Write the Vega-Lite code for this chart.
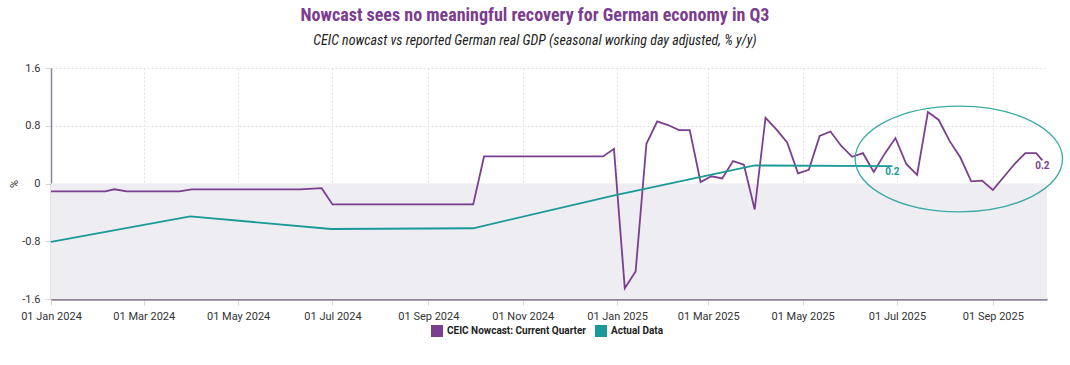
{
  "$schema": "https://vega.github.io/schema/vega-lite/v6.json",
  "width": 996,
  "height": 231,
  "autosize": "none",
  "padding": {"left": 51, "top": 68, "right": 23, "bottom": 66},
  "background": "white",
  "title": {
    "text": "Nowcast sees no meaningful recovery for German economy in Q3",
    "subtitle": "CEIC nowcast vs reported German real GDP (seasonal working day adjusted, % y/y)",
    "anchor": "middle",
    "frame": "group",
    "dx": -14,
    "offset": 14,
    "font": "Roboto Condensed, Liberation Sans Narrow, DejaVu Sans Condensed, Roboto",
    "fontSize": 18,
    "fontWeight": "bold",
    "color": "#7b3c8e",
    "subtitleFont": "Roboto Condensed, Liberation Sans Narrow, DejaVu Sans Condensed, Roboto",
    "subtitleFontStyle": "italic",
    "subtitleFontSize": 14,
    "subtitleColor": "#222222",
    "subtitlePadding": 9
  },
  "config": {
    "view": {"stroke": null},
    "font": "Roboto",
    "axis": {
      "labelFont": "Roboto",
      "labelFontSize": 11,
      "labelColor": "#333333",
      "titleFont": "Roboto",
      "titleFontSize": 11,
      "titleFontWeight": "normal",
      "titleColor": "#333333",
      "gridColor": "#e3e3e3",
      "gridDash": [2, 2],
      "gridWidth": 1,
      "tickColor": "#d6d6d6",
      "tickSize": 6,
      "domainColor": "#8e8299"
    },
    "legend": {
      "labelFont": "Roboto",
      "labelFontSize": 10,
      "labelFontWeight": "bold",
      "labelColor": "#222222"
    }
  },
  "datasets": {
    "series": [
      {"date": "2024-01-01", "value": -0.11, "series": "CEIC Nowcast: Current Quarter"},
      {"date": "2024-02-05", "value": -0.11, "series": "CEIC Nowcast: Current Quarter"},
      {"date": "2024-02-11", "value": -0.08, "series": "CEIC Nowcast: Current Quarter"},
      {"date": "2024-02-19", "value": -0.11, "series": "CEIC Nowcast: Current Quarter"},
      {"date": "2024-03-24", "value": -0.11, "series": "CEIC Nowcast: Current Quarter"},
      {"date": "2024-04-01", "value": -0.08, "series": "CEIC Nowcast: Current Quarter"},
      {"date": "2024-06-10", "value": -0.08, "series": "CEIC Nowcast: Current Quarter"},
      {"date": "2024-06-24", "value": -0.065, "series": "CEIC Nowcast: Current Quarter"},
      {"date": "2024-07-01", "value": -0.29, "series": "CEIC Nowcast: Current Quarter"},
      {"date": "2024-09-30", "value": -0.29, "series": "CEIC Nowcast: Current Quarter"},
      {"date": "2024-10-07", "value": 0.375, "series": "CEIC Nowcast: Current Quarter"},
      {"date": "2024-12-23", "value": 0.375, "series": "CEIC Nowcast: Current Quarter"},
      {"date": "2024-12-30", "value": 0.48, "series": "CEIC Nowcast: Current Quarter"},
      {"date": "2025-01-06", "value": -1.45, "series": "CEIC Nowcast: Current Quarter"},
      {"date": "2025-01-13", "value": -1.22, "series": "CEIC Nowcast: Current Quarter"},
      {"date": "2025-01-20", "value": 0.55, "series": "CEIC Nowcast: Current Quarter"},
      {"date": "2025-01-27", "value": 0.86, "series": "CEIC Nowcast: Current Quarter"},
      {"date": "2025-02-03", "value": 0.81, "series": "CEIC Nowcast: Current Quarter"},
      {"date": "2025-02-10", "value": 0.74, "series": "CEIC Nowcast: Current Quarter"},
      {"date": "2025-02-17", "value": 0.74, "series": "CEIC Nowcast: Current Quarter"},
      {"date": "2025-02-24", "value": 0.02, "series": "CEIC Nowcast: Current Quarter"},
      {"date": "2025-03-03", "value": 0.10, "series": "CEIC Nowcast: Current Quarter"},
      {"date": "2025-03-10", "value": 0.07, "series": "CEIC Nowcast: Current Quarter"},
      {"date": "2025-03-17", "value": 0.31, "series": "CEIC Nowcast: Current Quarter"},
      {"date": "2025-03-24", "value": 0.26, "series": "CEIC Nowcast: Current Quarter"},
      {"date": "2025-03-31", "value": -0.36, "series": "CEIC Nowcast: Current Quarter"},
      {"date": "2025-04-07", "value": 0.91, "series": "CEIC Nowcast: Current Quarter"},
      {"date": "2025-04-14", "value": 0.75, "series": "CEIC Nowcast: Current Quarter"},
      {"date": "2025-04-21", "value": 0.57, "series": "CEIC Nowcast: Current Quarter"},
      {"date": "2025-04-28", "value": 0.14, "series": "CEIC Nowcast: Current Quarter"},
      {"date": "2025-05-05", "value": 0.19, "series": "CEIC Nowcast: Current Quarter"},
      {"date": "2025-05-12", "value": 0.66, "series": "CEIC Nowcast: Current Quarter"},
      {"date": "2025-05-19", "value": 0.72, "series": "CEIC Nowcast: Current Quarter"},
      {"date": "2025-05-26", "value": 0.52, "series": "CEIC Nowcast: Current Quarter"},
      {"date": "2025-06-02", "value": 0.37, "series": "CEIC Nowcast: Current Quarter"},
      {"date": "2025-06-09", "value": 0.42, "series": "CEIC Nowcast: Current Quarter"},
      {"date": "2025-06-16", "value": 0.16, "series": "CEIC Nowcast: Current Quarter"},
      {"date": "2025-06-23", "value": 0.41, "series": "CEIC Nowcast: Current Quarter"},
      {"date": "2025-06-30", "value": 0.63, "series": "CEIC Nowcast: Current Quarter"},
      {"date": "2025-07-07", "value": 0.27, "series": "CEIC Nowcast: Current Quarter"},
      {"date": "2025-07-14", "value": 0.12, "series": "CEIC Nowcast: Current Quarter"},
      {"date": "2025-07-21", "value": 0.99, "series": "CEIC Nowcast: Current Quarter"},
      {"date": "2025-07-28", "value": 0.88, "series": "CEIC Nowcast: Current Quarter"},
      {"date": "2025-08-04", "value": 0.59, "series": "CEIC Nowcast: Current Quarter"},
      {"date": "2025-08-11", "value": 0.36, "series": "CEIC Nowcast: Current Quarter"},
      {"date": "2025-08-18", "value": 0.03, "series": "CEIC Nowcast: Current Quarter"},
      {"date": "2025-08-25", "value": 0.04, "series": "CEIC Nowcast: Current Quarter"},
      {"date": "2025-09-01", "value": -0.09, "series": "CEIC Nowcast: Current Quarter"},
      {"date": "2025-09-08", "value": 0.09, "series": "CEIC Nowcast: Current Quarter"},
      {"date": "2025-09-15", "value": 0.27, "series": "CEIC Nowcast: Current Quarter"},
      {"date": "2025-09-22", "value": 0.42, "series": "CEIC Nowcast: Current Quarter"},
      {"date": "2025-09-29", "value": 0.42, "series": "CEIC Nowcast: Current Quarter"},
      {"date": "2025-10-03", "value": 0.32, "series": "CEIC Nowcast: Current Quarter"},
      {"date": "2024-01-01", "value": -0.81, "series": "Actual Data"},
      {"date": "2024-03-31", "value": -0.455, "series": "Actual Data"},
      {"date": "2024-06-30", "value": -0.63, "series": "Actual Data"},
      {"date": "2024-09-30", "value": -0.62, "series": "Actual Data"},
      {"date": "2024-12-31", "value": -0.16, "series": "Actual Data"},
      {"date": "2025-03-31", "value": 0.25, "series": "Actual Data"},
      {"date": "2025-06-28", "value": 0.24, "series": "Actual Data"}
    ],
    "labels": [
      {"date": "2025-10-03", "value": 0.32, "series": "CEIC Nowcast: Current Quarter", "label": "0.2"},
      {"date": "2025-06-28", "value": 0.24, "series": "Actual Data", "label": "0.2"}
    ]
  },
  "layer": [
    {
      "data": {"values": [{}]},
      "mark": {"type": "rect", "color": "#eeedf2"},
      "encoding": {
        "y": {"datum": 0, "type": "quantitative"},
        "y2": {"datum": -1.6}
      }
    },
    {
      "data": {"name": "series"},
      "mark": {"type": "line", "strokeWidth": 1.8, "interpolate": "linear"},
      "encoding": {
        "x": {
          "field": "date",
          "type": "temporal",
          "scale": {"type": "utc", "domain": [{"year": 2024, "month": 1, "date": 1, "utc": true}, {"year": 2025, "month": 10, "date": 6, "utc": true}]},
          "axis": {
            "title": null,
            "format": "%d %b %Y",
            "tickCount": {"interval": "month", "step": 2},
            "grid": true,
            "domainWidth": 2.5,
            "labelPadding": 5,
            "labelFlush": false
          }
        },
        "y": {
          "field": "value",
          "type": "quantitative",
          "scale": {"domain": [-1.6, 1.6], "nice": false, "zero": false},
          "axis": {
            "title": "%",
            "values": [-1.6, -0.8, 0, 0.8, 1.6],
            "labelExpr": "'' + datum.value",
            "grid": true,
            "domainWidth": 1.5,
            "labelPadding": 5,
            "titlePadding": 2
          }
        },
        "color": {
          "field": "series",
          "type": "nominal",
          "scale": {"domain": ["CEIC Nowcast: Current Quarter", "Actual Data"], "range": ["#7b3f8f", "#1a9a96"]},
          "legend": {
            "title": null,
            "orient": "none",
            "legendX": 380,
            "legendY": 257,
            "direction": "horizontal",
            "symbolType": "square",
            "symbolSize": 144,
            "symbolStrokeWidth": 0,
            "columnPadding": 9
          }
        }
      }
    },
    {
      "data": {"values": [{}]},
      "mark": {
        "type": "point",
        "shape": "M -1 0 A 1 0.51 0 1 1 1 0 A 1 0.51 0 1 1 -1 0 Z",
        "filled": false,
        "strokeWidth": 1.3,
        "color": "#3aaaa5",
        "size": 43000,
        "opacity": 1
      },
      "encoding": {
        "x": {"datum": {"year": 2025, "month": 8, "date": 10, "utc": true}, "type": "temporal"},
        "y": {"datum": 0.34, "type": "quantitative"}
      }
    },
    {
      "data": {"name": "labels"},
      "mark": {"type": "text", "fontSize": 10, "fontWeight": "bold", "font": "Roboto", "baseline": "middle"},
      "encoding": {
        "x": {"field": "date", "type": "temporal"},
        "y": {"field": "value", "type": "quantitative"},
        "text": {"field": "label"},
        "color": {"field": "series", "type": "nominal", "legend": null},
        "align": {"condition": {"test": "datum.series == 'Actual Data'", "value": "left"}, "value": "center"},
        "yOffset": {"condition": {"test": "datum.series == 'Actual Data'", "value": -4}, "value": 6}
      }
    }
  ]
}
